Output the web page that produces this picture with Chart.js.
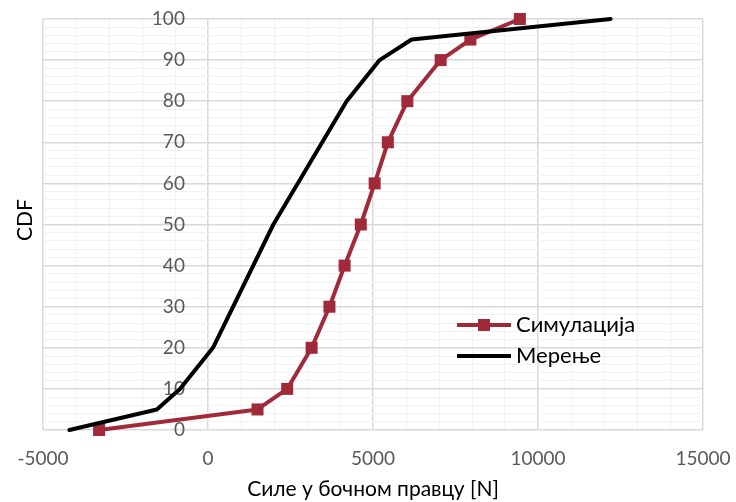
<!DOCTYPE html>
<html><head><meta charset="utf-8">
<script src="https://cdn.jsdelivr.net/npm/chart.js@4.4.1/dist/chart.umd.min.js"></script>
<style>html,body{margin:0;padding:0;background:#fff}#wrap{width:736px;height:502px}</style>
</head><body><div id="wrap"><canvas id="c" width="736" height="502"></canvas></div>
<script>
const simLabel = 'Симулација';
const measLabel = 'Мерење';
const simX = [-3300, 1500, 2400, 3140, 3680, 4140, 4630, 5050, 5450, 6040, 7050, 7950, 9450];
const simY = [0, 5, 10, 20, 30, 40, 50, 60, 70, 80, 90, 95, 100];
const measX = [-4200, -1550, -850, 150, 1980, 4200, 5200, 6170, 12200];
const measY = [0, 5, 10, 20, 50, 80, 90, 95, 100];
const xTitle = 'Силе у бочном правцу [N]';
const yTitle = 'CDF';

const FONT = "Lato, 'Open Sans', sans-serif";
const RED = '#A02A3A';

const legendPlugin = {
  id: 'customLegend',
  afterDraw(chart) {
    const ctx = chart.ctx;
    ctx.save();
    ctx.fillStyle = '#000';
    ctx.font = '21px ' + FONT;
    ctx.textAlign = 'center';
    ctx.textBaseline = 'middle';
    ctx.translate(25, 220);
    ctx.rotate(-Math.PI / 2);
    ctx.fillText(yTitle, 0, 0);
    ctx.restore();

    ctx.save();
    const items = chart.data.datasets;
    const x0 = 457, x1 = 511;
    const rows = [325, 356];
    items.forEach((ds, i) => {
      const y = rows[i];
      ctx.strokeStyle = ds.borderColor;
      ctx.lineWidth = 4;
      ctx.beginPath(); ctx.moveTo(x0, y); ctx.lineTo(x1, y); ctx.stroke();
      if (ds.pointRadius > 0) {
        ctx.fillStyle = ds.pointBackgroundColor;
        ctx.fillRect((x0 + x1) / 2 - 6, y - 6, 12, 12);
      }
      ctx.fillStyle = '#000';
      ctx.font = '22px ' + FONT;
      ctx.textAlign = 'left';
      ctx.textBaseline = 'middle';
      ctx.fillText(ds.label, 516, y);
    });
    ctx.restore();
  }
};

new Chart(document.getElementById('c'), {
  type: 'line',
  data: {
    datasets: [
      {
        label: simLabel,
        data: simX.map((x, i) => ({x, y: simY[i]})),
        borderColor: RED, backgroundColor: RED,
        pointBackgroundColor: RED, pointBorderColor: RED,
        borderWidth: 4, pointStyle: 'rect', pointRadius: 8.5, pointBorderWidth: 0,
        pointHoverRadius: 8.5, order: 2, tension: 0, clip: false,
        borderJoinStyle: 'round', borderCapStyle: 'round'
      },
      {
        label: measLabel,
        data: measX.map((x, i) => ({x, y: measY[i]})),
        borderColor: '#000', backgroundColor: '#000',
        borderWidth: 4, pointRadius: 0, pointHoverRadius: 0, order: 1, tension: 0, clip: false,
        borderJoinStyle: 'round', borderCapStyle: 'round'
      }
    ]
  },
  options: {
    responsive: false, animation: false,
    layout: { padding: { left: 43, right: 33, top: 19, bottom: 0 } },
    plugins: { legend: { display: false }, tooltip: { enabled: false } },
    scales: {
      x: {
        type: 'linear', position: 'bottom', min: -5000, max: 15000,
        border: { display: false },
        grid: {
          drawTicks: true, tickLength: 17, tickColor: 'rgba(0,0,0,0)',
          color: c => (c.tick && c.tick.value % 5000 === 0) ? '#d9d9d9' : '#f2f2f2',
          lineWidth: c => (c.tick && c.tick.value % 5000 === 0) ? 1.5 : 1
        },
        ticks: {
          stepSize: 1000, autoSkip: false, maxRotation: 0, padding: 0,
          color: '#595959', font: { family: FONT, size: 19 },
          callback: v => (v % 5000 === 0 ? String(v) : '')
        },
        title: { display: true, text: xTitle, color: '#000', font: { family: FONT, size: 21 }, padding: { top: 7, bottom: 0 } }
      },
      y: {
        type: 'linear', position: { x: -700 }, min: 0, max: 100,
        border: { display: false },
        grid: {
          drawTicks: false,
          color: c => (c.tick && c.tick.value % 10 === 0) ? '#d9d9d9' : '#f2f2f2',
          lineWidth: c => (c.tick && c.tick.value % 10 === 0) ? 1.5 : 1
        },
        ticks: {
          stepSize: 2, autoSkip: false, padding: 0,
          color: '#595959', font: { family: FONT, size: 19 },
          callback: v => (v % 10 === 0 ? String(v) : '')
        }
      }
    }
  },
  plugins: [legendPlugin]
});
</script></body></html>
